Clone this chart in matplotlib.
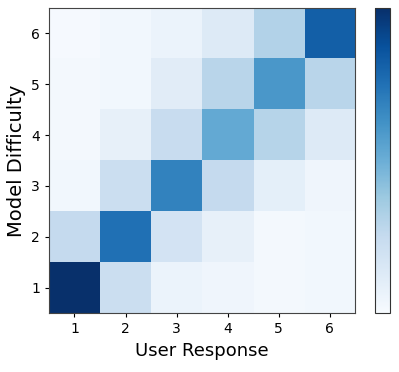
import numpy as np
import matplotlib
matplotlib.use("Agg")
import matplotlib.pyplot as plt

responses = [1, 2, 3, 4, 5, 6]
difficulties = [1, 2, 3, 4, 5, 6]
# rows: model difficulty 1..6, cols: user response 1..6 (relative frequency)
row_d1 = [1.00, 0.22, 0.06, 0.04, 0.02, 0.03]
row_d2 = [0.25, 0.75, 0.18, 0.08, 0.02, 0.03]
row_d3 = [0.03, 0.22, 0.68, 0.25, 0.09, 0.04]
row_d4 = [0.02, 0.08, 0.24, 0.52, 0.30, 0.13]
row_d5 = [0.02, 0.03, 0.11, 0.29, 0.60, 0.29]
row_d6 = [0.01, 0.03, 0.06, 0.13, 0.31, 0.82]

matrix = np.array([row_d1, row_d2, row_d3, row_d4, row_d5, row_d6])

fig = plt.figure(figsize=(3.99, 3.72), dpi=100)
ax = fig.add_axes([0.1228, 0.1586, 0.767, 0.82])
cax = fig.add_axes([0.94, 0.1586, 0.0376, 0.82])

im = ax.imshow(matrix, cmap="Blues", origin="lower", aspect="auto",
               vmin=0, vmax=1,
               extent=[0.5, 6.5, 0.5, 6.5])
ax.set_xticks(responses)
ax.set_yticks(difficulties)
ax.tick_params(labelsize=10, length=3)
ax.set_xlabel("User Response", fontsize=13)
ax.set_ylabel("Model Difficulty", fontsize=14)
for s in ax.spines.values():
    s.set_color("#444444")

cb = fig.colorbar(im, cax=cax)
cb.set_ticks([])
cb.outline.set_edgecolor("#333333")

fig.savefig("out.png", dpi=100)
